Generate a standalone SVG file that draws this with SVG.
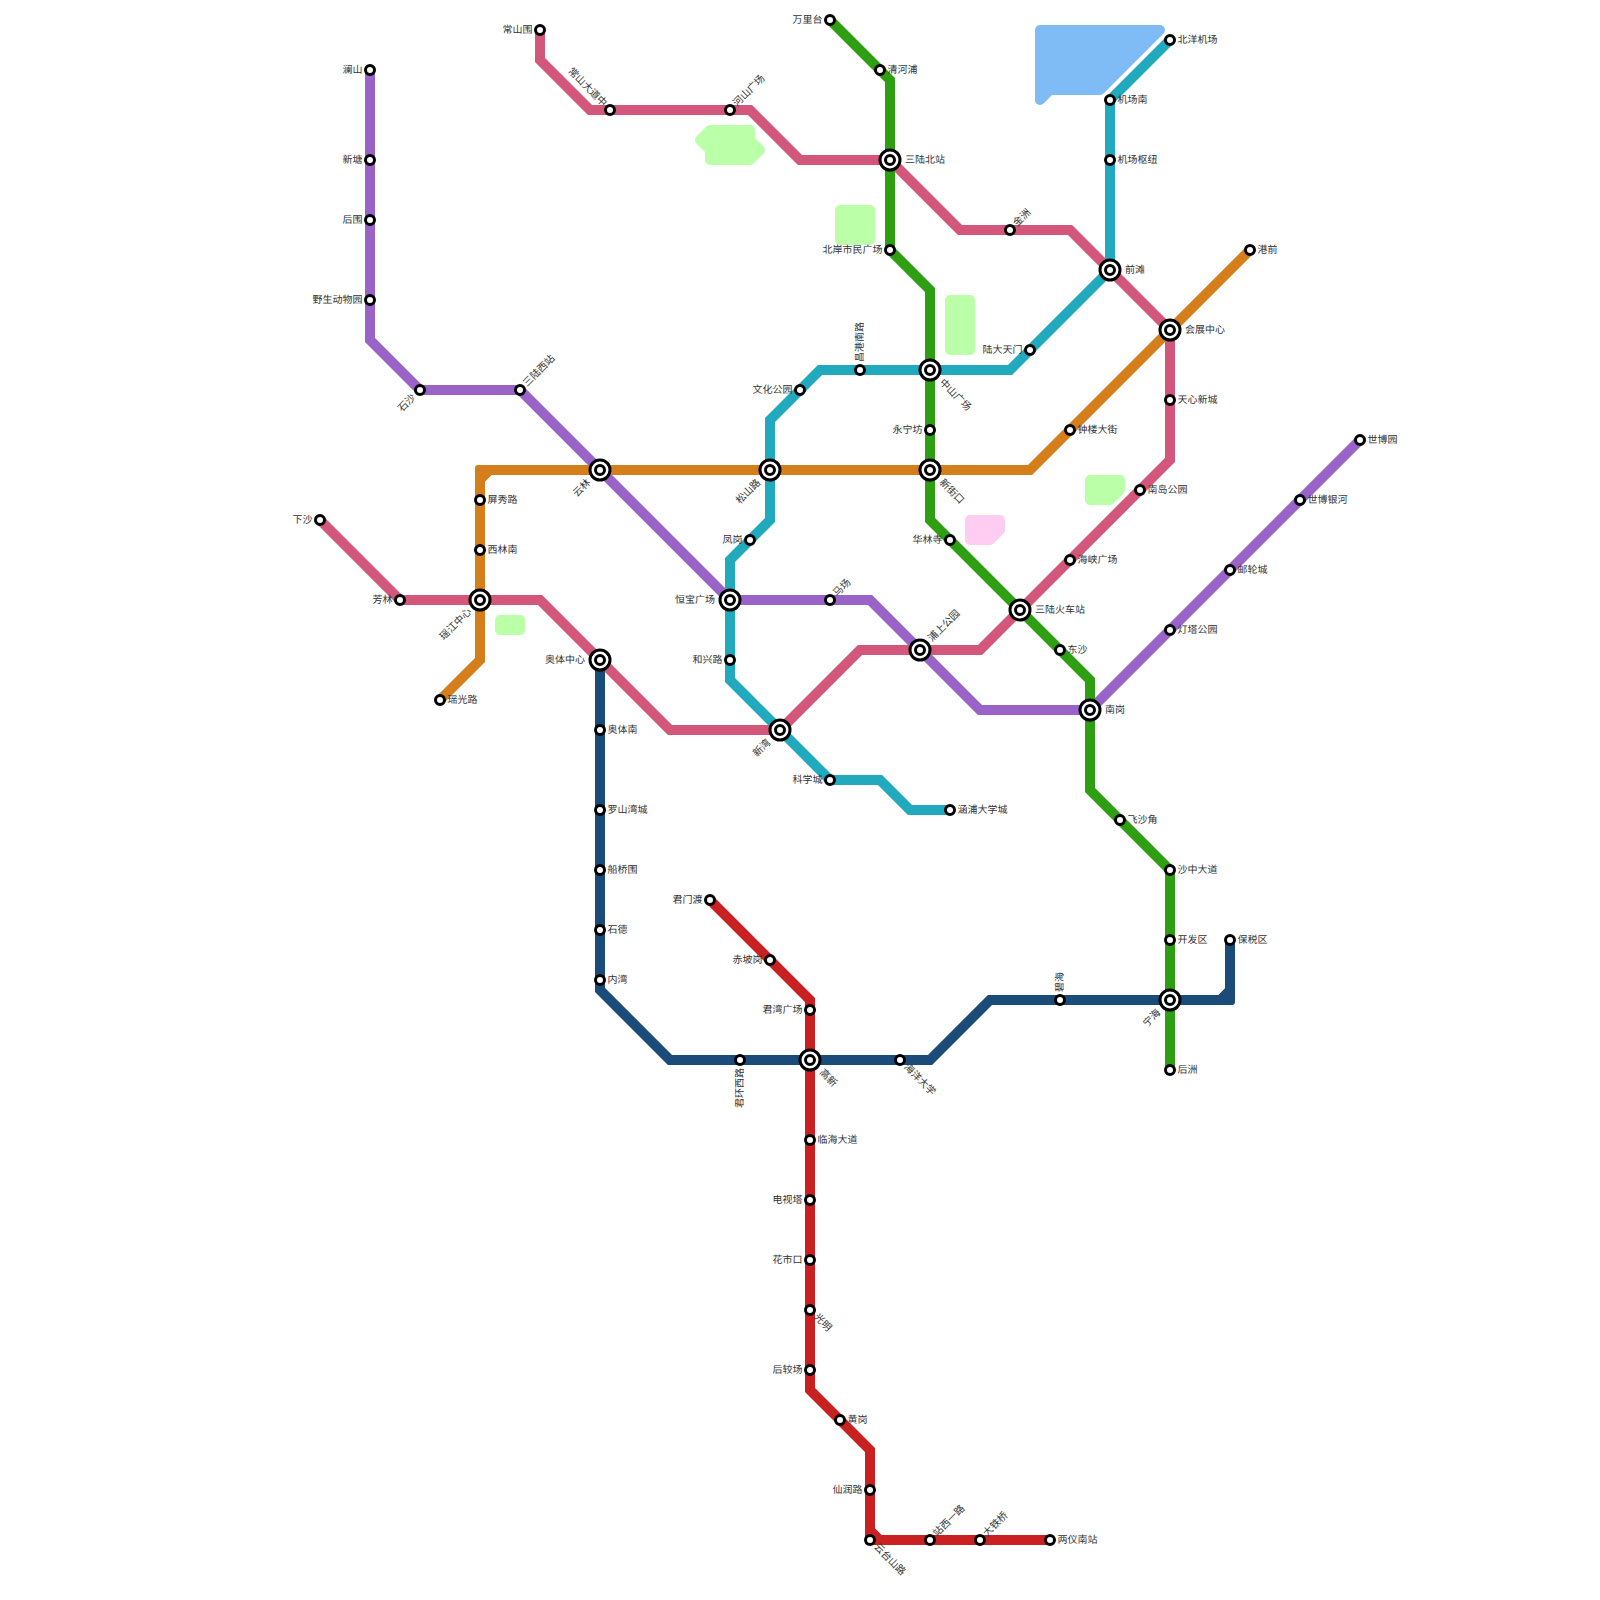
<svg xmlns="http://www.w3.org/2000/svg" width="1600" height="1600" viewBox="0 0 1600 1600">
<style>
.bg{fill:#fff}
.a{stroke-width:10;stroke-linejoin:round}
.ag{fill:#bbffa8;stroke:#bbffa8}
.ab{fill:#7fbbf5;stroke:#7fbbf5}
.ap{fill:#ffccf2;stroke:#ffccf2}
.l{fill:none;stroke-width:10;stroke-linejoin:miter;stroke-miterlimit:4}
.pu{stroke:#9963c8}.pk{stroke:#d2577b}.or{stroke:#d47f1b}.te{stroke:#21aabd}.gr{stroke:#2e9f12}.na{stroke:#1b4b79}.re{stroke:#c92121}
.s{fill:#fff;stroke:#000;stroke-width:3}
text{font-family:"Noto Sans CJK SC","Noto Sans",sans-serif;font-size:10px;fill:#333;text-rendering:geometricPrecision}
.e{text-anchor:end}
</style>
<defs>
<g id="sm"><circle class="s" r="4.5"/></g>
<g id="big"><circle class="s" r="10"/><circle class="s" r="4.5"/></g>
</defs>
<rect class="bg" width="1600" height="1600"/>
<g id="areas">
<path class="a ab" d="M1040 30H1160L1100 90H1050L1040 100Z"/>
<path class="a ag" d="M710 130H750V140L760 150L750 160H710V150L700 140Z"/>
<path class="a ag" d="M840 210H870V240H840Z"/>
<path class="a ag" d="M950 300H970V350H950Z"/>
<path class="a ag" d="M1090 480H1120V490L1110 500H1090Z"/>
<path class="a ap" d="M970 520H1000V530L990 540H970Z"/>
<path class="a ag" d="M500 620H520V630H500Z"/>
</g>
<g id="connectors">
<path class="l pk" d="M540 30V60L590 110H750L800 160H890L960 230H1070L1170 330V460L980 650H860L780 730H670L540 600H400L320 520"/>
<path class="l pu" d="M370 70V340L420 390H520L730 600H870L980 710H1090L1360 440"/>
<path class="l or" d="M440 700L480 660V490"/>
<path class="l or" d="M495 470H1030L1250 250"/>
<path d="M475 490V468Q475 465 478 465H500V475H491.7L485 481.7V490Z" fill="#d47f1b"/>
<path class="l te" d="M950 810H910L880 780H830L730 680V560L770 520V420L820 370H1010L1110 270V100L1170 40"/>
<path class="l gr" d="M830 20L890 80V250L930 290V520L1090 680V790L1170 870V1070"/>
<path class="l na" d="M600 660V990L670 1060H930L990 1000H1215"/>
<path class="l na" d="M1230 980V940"/>
<path d="M1210 995H1218.3L1225 988.3V970H1235V1002Q1235 1005 1232 1005H1210Z" fill="#1b4b79"/>
<path class="l re" d="M710 900L810 1000V1390L870 1450V1525"/>
<path class="l re" d="M885 1540H1050"/>
<path d="M865 1520V1542Q865 1545 868 1545H890V1535H881.7L875 1528.3V1520Z" fill="#c92121"/>
</g>
<g id="stations">
<g id="s1" transform="translate(370 70)"><use href="#sm"/><text class="e" x="-7.5" y="3">澜山</text></g>
<g id="s2" transform="translate(370 160)"><use href="#sm"/><text class="e" x="-7.5" y="3">新塘</text></g>
<g id="s3" transform="translate(370 220)"><use href="#sm"/><text class="e" x="-7.5" y="3">后围</text></g>
<g id="s4" transform="translate(370 300)"><use href="#sm"/><text class="e" x="-7.5" y="3">野生动物园</text></g>
<g id="s5" transform="translate(420 390)"><use href="#sm"/><text class="e" transform="translate(-6 6) rotate(-45)" y="3">石沙</text></g>
<g id="s6" transform="translate(520 390)"><use href="#sm"/><text transform="translate(5 -5) rotate(-45)" y="3">三陆西站</text></g>
<g id="s7" transform="translate(600 470)"><use href="#big"/><text class="e" transform="translate(-11 11) rotate(-45)" y="3">云林</text></g>
<g id="s8" transform="translate(730 600)"><use href="#big"/><text class="e" x="-15" y="3">恒宝广场</text></g>
<g id="s9" transform="translate(830 600)"><use href="#sm"/><text transform="translate(5 -5) rotate(-45)" y="3">马场</text></g>
<g id="s10" transform="translate(920 650)"><use href="#big"/><text transform="translate(10 -10) rotate(-45)" y="3">浦上公园</text></g>
<g id="s11" transform="translate(1090 710)"><use href="#big"/><text x="15" y="3">南岗</text></g>
<g id="s12" transform="translate(1170 630)"><use href="#sm"/><text x="7.5" y="3">灯塔公园</text></g>
<g id="s13" transform="translate(1230 570)"><use href="#sm"/><text x="7.5" y="3">邮轮城</text></g>
<g id="s14" transform="translate(1300 500)"><use href="#sm"/><text x="7.5" y="3">世博银河</text></g>
<g id="s15" transform="translate(1360 440)"><use href="#sm"/><text x="7.5" y="3">世博园</text></g>
<g id="s16" transform="translate(540 30)"><use href="#sm"/><text class="e" x="-7.5" y="3">常山围</text></g>
<g id="s17" transform="translate(610 110)"><use href="#sm"/><text class="e" transform="translate(-5 -5) rotate(45)" y="3">常山大道中</text></g>
<g id="s18" transform="translate(730 110)"><use href="#sm"/><text transform="translate(5 -5) rotate(-45)" y="3">河山广场</text></g>
<g id="s19" transform="translate(890 160)"><use href="#big"/><text x="15" y="3">三陆北站</text></g>
<g id="s20" transform="translate(1010 230)"><use href="#sm"/><text transform="translate(5 -5) rotate(-45)" y="3">金洲</text></g>
<g id="s21" transform="translate(1110 270)"><use href="#big"/><text x="15" y="3">前滩</text></g>
<g id="s22" transform="translate(1170 330)"><use href="#big"/><text x="15" y="3">会展中心</text></g>
<g id="s23" transform="translate(1170 400)"><use href="#sm"/><text x="7.5" y="3">天心新城</text></g>
<g id="s24" transform="translate(1140 490)"><use href="#sm"/><text x="7.5" y="3">南岛公园</text></g>
<g id="s25" transform="translate(1070 560)"><use href="#sm"/><text x="7.5" y="3">海峡广场</text></g>
<g id="s26" transform="translate(1020 610)"><use href="#big"/><text x="15" y="3">三陆火车站</text></g>
<g id="s27" transform="translate(780 730)"><use href="#big"/><text class="e" transform="translate(-11 11) rotate(-45)" y="3">新湾</text></g>
<g id="s28" transform="translate(600 660)"><use href="#big"/><text class="e" x="-15" y="3">奥体中心</text></g>
<g id="s29" transform="translate(480 600)"><use href="#big"/><text class="e" transform="translate(-10 10) rotate(-45)" y="3">瑶江中心</text></g>
<g id="s30" transform="translate(400 600)"><use href="#sm"/><text class="e" x="-7.5" y="3">芳林</text></g>
<g id="s31" transform="translate(320 520)"><use href="#sm"/><text class="e" x="-7.5" y="3">下沙</text></g>
<g id="s32" transform="translate(440 700)"><use href="#sm"/><text x="7.5" y="3">瑶光路</text></g>
<g id="s33" transform="translate(480 550)"><use href="#sm"/><text x="7.5" y="3">西林南</text></g>
<g id="s34" transform="translate(480 500)"><use href="#sm"/><text x="7.5" y="3">屏秀路</text></g>
<g id="s35" transform="translate(770 470)"><use href="#big"/><text class="e" transform="translate(-11 11) rotate(-45)" y="3">松山路</text></g>
<g id="s36" transform="translate(930 470)"><use href="#big"/><text transform="translate(11 11) rotate(45)" y="3">新街口</text></g>
<g id="s37" transform="translate(1070 430)"><use href="#sm"/><text x="7.5" y="3">钟楼大街</text></g>
<g id="s38" transform="translate(1250 250)"><use href="#sm"/><text x="7.5" y="3">港前</text></g>
<g id="s39" transform="translate(950 810)"><use href="#sm"/><text x="7.5" y="3">涵浦大学城</text></g>
<g id="s40" transform="translate(830 780)"><use href="#sm"/><text class="e" x="-7.5" y="3">科学城</text></g>
<g id="s41" transform="translate(730 660)"><use href="#sm"/><text class="e" x="-7.5" y="3">和兴路</text></g>
<g id="s42" transform="translate(750 540)"><use href="#sm"/><text class="e" x="-7.5" y="3">凤岗</text></g>
<g id="s43" transform="translate(800 390)"><use href="#sm"/><text class="e" x="-7.5" y="3">文化公园</text></g>
<g id="s44" transform="translate(860 370)"><use href="#sm"/><text transform="translate(0 -8) rotate(-90)" y="3">昌港南路</text></g>
<g id="s45" transform="translate(930 370)"><use href="#big"/><text transform="translate(11 11) rotate(45)" y="3">中山广场</text></g>
<g id="s46" transform="translate(1030 350)"><use href="#sm"/><text class="e" x="-7.5" y="3">陆大天门</text></g>
<g id="s47" transform="translate(1110 160)"><use href="#sm"/><text x="7.5" y="3">机场枢纽</text></g>
<g id="s48" transform="translate(1110 100)"><use href="#sm"/><text x="7.5" y="3">机场南</text></g>
<g id="s49" transform="translate(1170 40)"><use href="#sm"/><text x="7.5" y="3">北洋机场</text></g>
<g id="s50" transform="translate(830 20)"><use href="#sm"/><text class="e" x="-7.5" y="3">万里台</text></g>
<g id="s51" transform="translate(880 70)"><use href="#sm"/><text x="7.5" y="3">清河浦</text></g>
<g id="s52" transform="translate(890 250)"><use href="#sm"/><text class="e" x="-7.5" y="3">北岸市民广场</text></g>
<g id="s53" transform="translate(930 430)"><use href="#sm"/><text class="e" x="-7.5" y="3">永宁坊</text></g>
<g id="s54" transform="translate(950 540)"><use href="#sm"/><text class="e" x="-7.5" y="3">华林寺</text></g>
<g id="s55" transform="translate(1060 650)"><use href="#sm"/><text x="7.5" y="3">东沙</text></g>
<g id="s56" transform="translate(1120 820)"><use href="#sm"/><text x="7.5" y="3">飞沙角</text></g>
<g id="s57" transform="translate(1170 870)"><use href="#sm"/><text x="7.5" y="3">沙中大道</text></g>
<g id="s58" transform="translate(1170 940)"><use href="#sm"/><text x="7.5" y="3">开发区</text></g>
<g id="s59" transform="translate(1170 1000)"><use href="#big"/><text class="e" transform="translate(-11 11) rotate(-45)" y="3">宁海</text></g>
<g id="s60" transform="translate(1170 1070)"><use href="#sm"/><text x="7.5" y="3">后洲</text></g>
<g id="s61" transform="translate(600 730)"><use href="#sm"/><text x="7.5" y="3">奥体南</text></g>
<g id="s62" transform="translate(600 810)"><use href="#sm"/><text x="7.5" y="3">罗山湾城</text></g>
<g id="s63" transform="translate(600 870)"><use href="#sm"/><text x="7.5" y="3">船桥围</text></g>
<g id="s64" transform="translate(600 930)"><use href="#sm"/><text x="7.5" y="3">石德</text></g>
<g id="s65" transform="translate(600 980)"><use href="#sm"/><text x="7.5" y="3">内湾</text></g>
<g id="s66" transform="translate(740 1060)"><use href="#sm"/><text class="e" transform="translate(0 8) rotate(-90)" y="3">君环西路</text></g>
<g id="s67" transform="translate(810 1060)"><use href="#big"/><text transform="translate(11 11) rotate(45)" y="3">高新</text></g>
<g id="s68" transform="translate(900 1060)"><use href="#sm"/><text transform="translate(5.5 5.5) rotate(45)" y="3">海洋大学</text></g>
<g id="s69" transform="translate(1060 1000)"><use href="#sm"/><text transform="translate(0 -8) rotate(-90)" y="3">碧海</text></g>
<g id="s70" transform="translate(1230 940)"><use href="#sm"/><text x="7.5" y="3">保税区</text></g>
<g id="s71" transform="translate(710 900)"><use href="#sm"/><text class="e" x="-7.5" y="3">君门渡</text></g>
<g id="s72" transform="translate(770 960)"><use href="#sm"/><text class="e" x="-7.5" y="3">赤坡岗</text></g>
<g id="s73" transform="translate(810 1010)"><use href="#sm"/><text class="e" x="-7.5" y="3">君湾广场</text></g>
<g id="s74" transform="translate(810 1140)"><use href="#sm"/><text x="7.5" y="3">临海大道</text></g>
<g id="s75" transform="translate(810 1200)"><use href="#sm"/><text class="e" x="-7.5" y="3">电视塔</text></g>
<g id="s76" transform="translate(810 1260)"><use href="#sm"/><text class="e" x="-7.5" y="3">花市口</text></g>
<g id="s77" transform="translate(810 1310)"><use href="#sm"/><text transform="translate(5.5 5.5) rotate(45)" y="3">光明</text></g>
<g id="s78" transform="translate(810 1370)"><use href="#sm"/><text class="e" x="-7.5" y="3">后较场</text></g>
<g id="s79" transform="translate(840 1420)"><use href="#sm"/><text x="7.5" y="3">黄岗</text></g>
<g id="s80" transform="translate(870 1490)"><use href="#sm"/><text class="e" x="-7.5" y="3">仙润路</text></g>
<g id="s81" transform="translate(870 1540)"><use href="#sm"/><text transform="translate(5.5 5.5) rotate(45)" y="3">云台山路</text></g>
<g id="s82" transform="translate(930 1540)"><use href="#sm"/><text transform="translate(5 -5) rotate(-45)" y="3">站西一路</text></g>
<g id="s83" transform="translate(980 1540)"><use href="#sm"/><text transform="translate(5 -5) rotate(-45)" y="3">大铁桥</text></g>
<g id="s84" transform="translate(1050 1540)"><use href="#sm"/><text x="7.5" y="3">两仪南站</text></g>
</g>
</svg>
